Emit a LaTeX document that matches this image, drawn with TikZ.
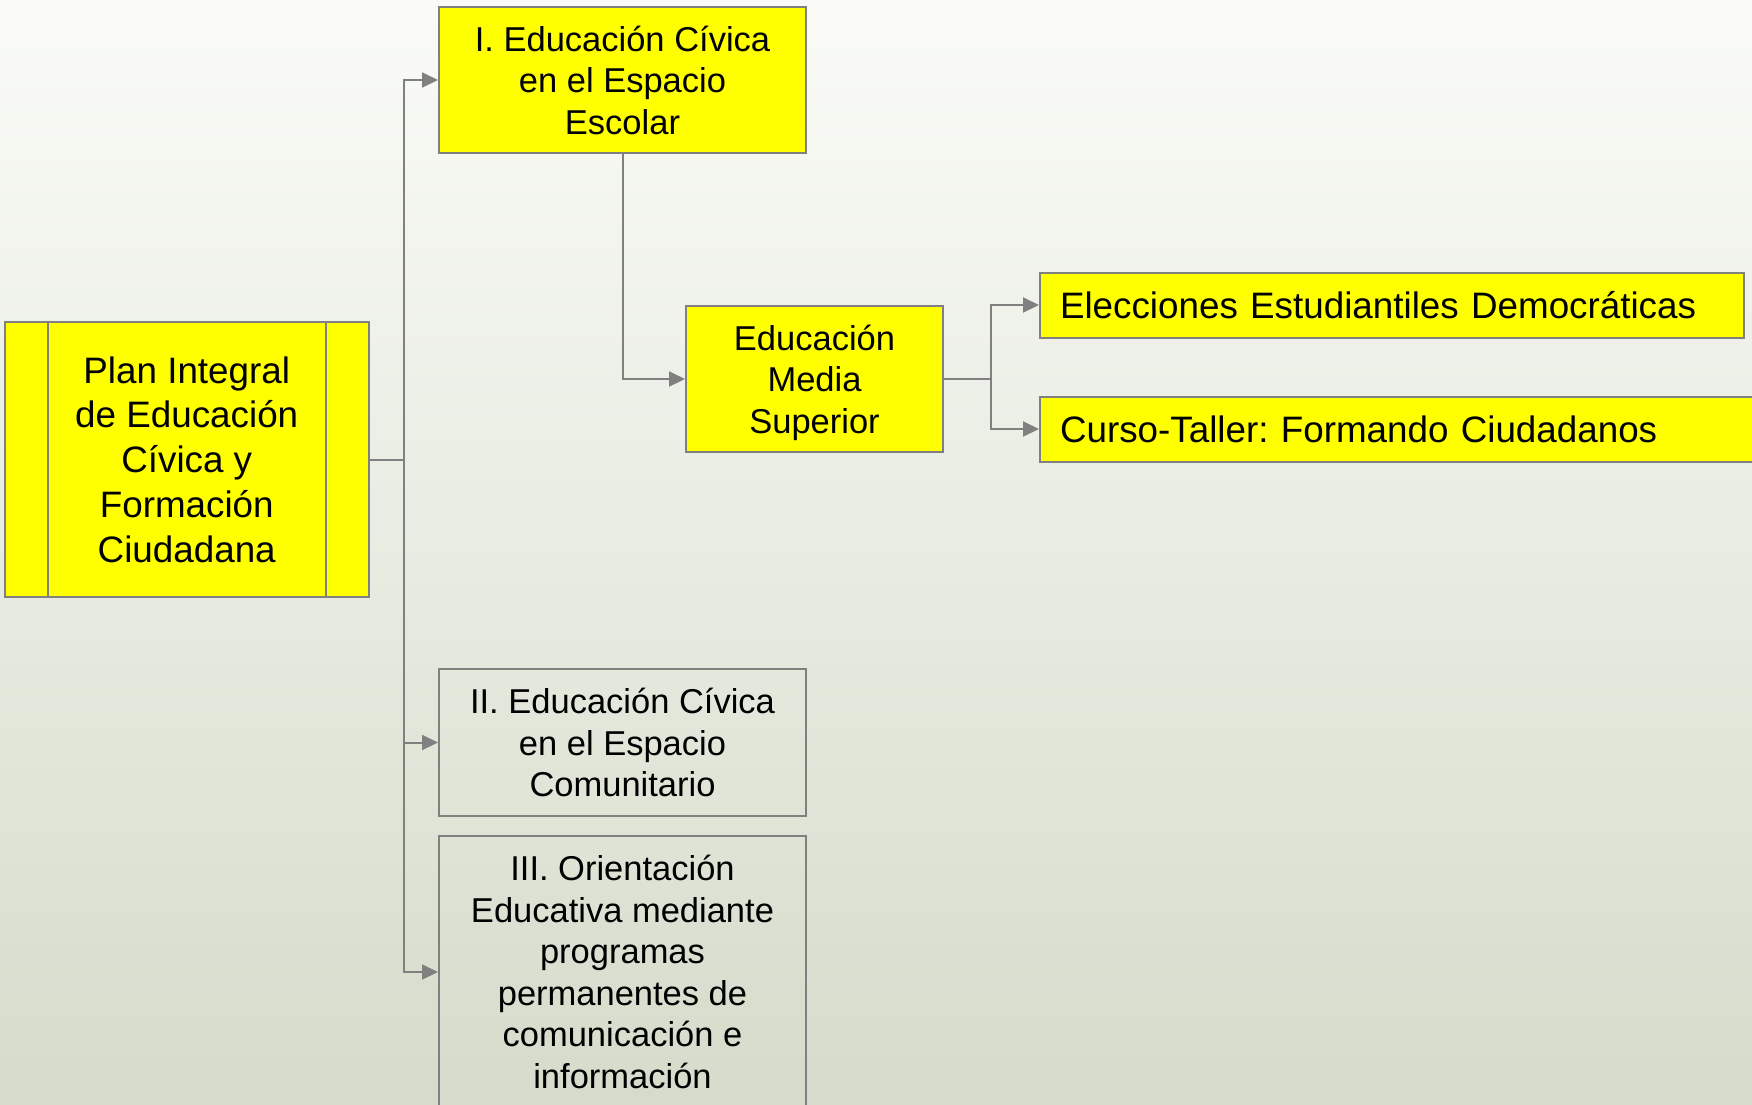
\documentclass[tikz,border=0pt]{standalone}
\usepackage{fontspec}
\setmainfont{Liberation Sans}
\usetikzlibrary{arrows.meta}
\definecolor{bxgray}{RGB}{128,128,128}
\definecolor{ylw}{RGB}{255,255,0}
\definecolor{bgtop}{RGB}{250,251,247}
\definecolor{bgbot}{RGB}{213,220,203}
\frenchspacing
\begin{document}
\begin{tikzpicture}[x=0.5pt,y=-0.5pt,
  conn/.style={draw=bxgray, line width=1pt, -{Triangle[length=8pt,width=7.5pt]}},
  sepline/.style={draw=bxgray, line width=1pt},
  box/.style={draw=bxgray, line width=1pt, align=center, inner sep=0pt,
    font=\fontsize{17.25pt}{20.75pt}\selectfont},
  ybox/.style={box, fill=ylw},
  lbox/.style={draw=bxgray, fill=ylw, line width=1pt, align=left, text width=332pt,
    inner xsep=10pt, inner ysep=0pt, minimum height=32.5pt, anchor=west,
    font=\fontsize{18.4pt}{22pt}\selectfont}
]
\useasboundingbox (0,0) rectangle (1752,1104);
\clip (0,0) rectangle (1752,1104);
\shade[top color=bgtop, bottom color=bgbot] (0,0) rectangle (1752,1104);

\node[ybox, minimum width=181.75pt, minimum height=137.5pt,
  font=\fontsize{18.4pt}{22.35pt}\selectfont] (plan) at (186.75,459.5)
  {Plan Integral\\de Educación\\Cívica y\\Formación\\Ciudadana};
\draw[sepline] ([xshift=22pt]plan.north west) -- ([xshift=22pt]plan.south west);
\draw[sepline] ([xshift=-22pt]plan.north east) -- ([xshift=-22pt]plan.south east);

\node[ybox, minimum width=183.5pt, minimum height=73pt] (b1) at (622.5,80)
  {I. Educación Cívica\\en el Espacio\\Escolar};
\node[ybox, minimum width=128.5pt, minimum height=73pt, text depth=0pt] (ems) at (814.5,379)
  {Educación\\Media\\Superior};
\node[box, minimum width=183.5pt, minimum height=73.5pt] (b2) at (622.5,742.5)
  {II. Educación Cívica\\en el Espacio\\Comunitario};
\node[box, minimum width=183.5pt, minimum height=136pt] (b3) at (622.5,972)
  {III. Orientación\\Educativa mediante\\programas\\permanentes de\\comunicación e\\información};
\node[lbox] (elec) at (1039,305) {Elecciones Estudiantiles Democráticas};
\node[lbox, text width=360pt] (curso) at (1039,429) {Curso-Taller: Formando Ciudadanos};

\coordinate (trunk) at (404,459.5);
\coordinate (split) at (991,379);
\draw[conn] (plan.east) -- (trunk) |- (b1.west);
\draw[conn] (trunk) |- (b2.west);
\draw[conn] (trunk) |- (b3.west);
\draw[conn] (b1.south) |- (ems.west);
\draw[conn] (ems.east) -- (split) |- (elec.west);
\draw[conn] (split) |- (curso.west);
\end{tikzpicture}
\end{document}
